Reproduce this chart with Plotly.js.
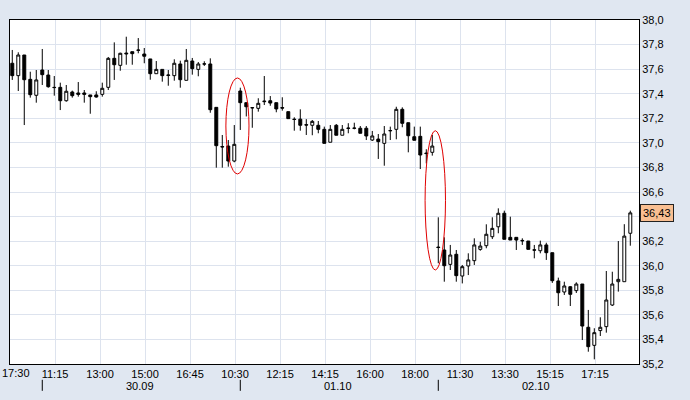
<!DOCTYPE html>
<html>
<head>
<meta charset="utf-8">
<script src="https://cdn.plot.ly/plotly-3.0.1.min.js"></script>
<style>
html, body { margin: 0; padding: 0; background: #e0e7f1; }
#chart { width: 690px; height: 400px; }
</style>
</head>
<body>
<div id="chart"></div>
<script>
// 15 minute candles
var openPx = [37.648, 37.547, 37.715, 37.517, 37.387, 37.593, 37.552, 37.452, 37.452, 37.343,
    37.414, 37.406, 37.406, 37.390, 37.390, 37.395, 37.452, 37.688, 37.631, 37.731,
    37.742, 37.753, 37.723, 37.683, 37.563, 37.598, 37.548, 37.547, 37.642, 37.509,
    37.666, 37.598, 37.641, 37.642, 37.289, 36.970, 36.974, 36.852, 37.422, 37.327,
    37.287, 37.281, 37.335, 37.343, 37.327, 37.287, 37.254, 37.193, 37.193, 37.148,
    37.143, 37.143, 37.110, 37.005, 37.143, 37.062, 37.117, 37.118, 37.119, 37.119,
    37.023, 37.031, 36.996, 37.098, 37.110, 37.273, 37.164, 37.050, 37.053, 36.917,
    36.923, 36.152, 36.128, 36.011, 36.093, 35.916, 35.998, 36.041, 36.133, 36.163,
    36.236, 36.317, 36.427, 36.231, 36.231, 36.206, 36.201, 36.129, 36.122, 36.169,
    36.106, 35.876, 35.786, 35.829, 35.797, 35.851, 35.499, 35.352, 35.472, 35.504,
    35.680, 35.870, 35.870, 36.264];
var highPx = [37.756, 37.737, 37.715, 37.579, 37.593, 37.764, 37.593, 37.544, 37.490, 37.471,
    37.425, 37.495, 37.430, 37.390, 37.420, 37.490, 37.699, 37.818, 37.734, 37.864,
    37.742, 37.853, 37.772, 37.683, 37.666, 37.598, 37.593, 37.680, 37.669, 37.764,
    37.691, 37.658, 37.664, 37.688, 37.289, 37.064, 37.023, 37.145, 37.449, 37.327,
    37.287, 37.363, 37.544, 37.381, 37.327, 37.371, 37.254, 37.208, 37.273, 37.193,
    37.186, 37.178, 37.132, 37.145, 37.153, 37.145, 37.160, 37.164, 37.137, 37.137,
    37.097, 37.072, 37.137, 37.132, 37.294, 37.289, 37.164, 37.132, 37.132, 36.948,
    37.064, 36.394, 36.231, 36.169, 36.128, 36.006, 36.101, 36.223, 36.195, 36.337,
    36.394, 36.467, 36.448, 36.399, 36.231, 36.223, 36.201, 36.169, 36.204, 36.187,
    36.106, 35.903, 35.870, 35.835, 35.865, 35.851, 35.640, 35.491, 35.580, 35.957,
    35.951, 36.201, 36.338, 36.448];
var lowPx = [37.512, 37.422, 37.145, 37.368, 37.327, 37.471, 37.449, 37.384, 37.267, 37.335,
    37.368, 37.376, 37.327, 37.237, 37.368, 37.376, 37.430, 37.512, 37.587, 37.636,
    37.636, 37.729, 37.648, 37.514, 37.563, 37.498, 37.465, 37.506, 37.449, 37.509,
    37.555, 37.542, 37.626, 37.245, 36.798, 36.798, 36.806, 36.842, 37.105, 37.215,
    37.123, 37.254, 37.308, 37.302, 37.249, 37.262, 37.197, 37.099, 37.099, 37.064,
    37.062, 37.078, 36.996, 37.005, 37.062, 37.062, 37.078, 37.110, 37.078, 37.023,
    37.015, 36.869, 36.814, 37.023, 37.029, 37.127, 36.923, 37.021, 36.787, 36.833,
    36.896, 36.020, 35.870, 35.965, 35.870, 35.856, 35.924, 36.006, 36.122, 36.142,
    36.217, 36.264, 36.215, 36.209, 36.128, 36.169, 36.133, 36.060, 36.101, 36.047,
    35.860, 35.672, 35.762, 35.672, 35.778, 35.395, 35.300, 35.238, 35.428, 35.455,
    35.672, 35.789, 35.870, 36.163];
var closePx = [37.547, 37.715, 37.514, 37.392, 37.512, 37.555, 37.457, 37.450, 37.343, 37.420,
    37.384, 37.395, 37.395, 37.376, 37.373, 37.444, 37.688, 37.636, 37.729, 37.725,
    37.726, 37.755, 37.705, 37.563, 37.598, 37.547, 37.552, 37.648, 37.514, 37.672,
    37.604, 37.642, 37.643, 37.270, 36.977, 36.967, 36.852, 36.988, 37.327, 37.294,
    37.285, 37.322, 37.339, 37.324, 37.276, 37.283, 37.197, 37.190, 37.143, 37.145,
    37.175, 37.110, 36.996, 37.110, 37.062, 37.110, 37.120, 37.120, 37.078, 37.056,
    37.056, 37.010, 37.072, 37.100, 37.273, 37.159, 37.058, 37.021, 36.901, 36.913,
    36.974, 36.148, 36.000, 36.087, 35.919, 35.992, 36.047, 36.169, 36.160, 36.256,
    36.304, 36.427, 36.215, 36.209, 36.209, 36.203, 36.133, 36.127, 36.169, 36.106,
    35.878, 35.780, 35.835, 35.767, 35.851, 35.509, 35.341, 35.455, 35.499, 35.721,
    35.851, 35.889, 36.241, 36.430];

var timeLabels = ['17:30', '11:15', '13:00', '15:00', '16:45', '10:30', '12:15',
    '14:15', '16:00', '18:00', '11:30', '13:30', '15:15', '17:15'];
var priceTicks = [35.2, 35.4, 35.6, 35.8, 36.0, 36.2, 36.4, 36.6, 36.8, 37.0, 37.2, 37.4, 37.6, 37.8, 38.0];
var dayLabels = ['30.09', '01.10', '02.10'];
var dayStarts = [5, 38, 71];
var lastPrice = 36.43;

var fontName = 'Liberation Sans, Arial, sans-serif';
var xIdx = openPx.map(function(v, i) { return i; });

// time ticks sit every 7.5 candles; the first one is pushed in from the edge as text
var tickVals = [];
var tickText = [];
for (var iii = 0; iii < timeLabels.length; iii++)
{
    tickVals.push(-0.37 + 7.5 * iii);
    tickText.push(iii == 0 ? '' : timeLabels[iii]);
}

// the 36,4 label sits under the last price box
var priceText = priceTicks.map(function(p) {
    return Math.abs(p - lastPrice) < 0.1 ? '' : p.toFixed(1).replace('.', ',');
});

var trace1 =
{
    type: 'candlestick',
    x: xIdx,
    open: openPx,
    high: highPx,
    low: lowPx,
    close: closePx,
    increasing: {line: {color: '#000', width: 1}, fillcolor: '#fff'},
    decreasing: {line: {color: '#000', width: 1}, fillcolor: '#000'},
    whiskerwidth: 0,
    hoverinfo: 'skip'
};

var shapes = [];
var annotations = [];
for (iii = 0; iii < dayStarts.length; iii++)
{
    var endIdx = (iii + 1 < dayStarts.length) ? dayStarts[iii + 1] - 1 : xIdx.length - 1;
    shapes.push({type: 'line', xref: 'x', yref: 'paper', x0: dayStarts[iii], x1: dayStarts[iii],
        y0: -0.046, y1: -0.078, line: {color: '#000', width: 1}});
    annotations.push({xref: 'x', yref: 'paper', x: (dayStarts[iii] + endIdx) / 2 + 0.3, y: -0.064,
        text: dayLabels[iii], showarrow: false, xanchor: 'center', yanchor: 'middle',
        font: {family: fontName, size: 11, color: '#000'}});
}

annotations.push({xref: 'paper', yref: 'paper', x: 0, y: -0.027, xshift: -10,
    text: timeLabels[0], showarrow: false, xanchor: 'left', yanchor: 'middle',
    font: {family: fontName, size: 11, color: '#000'}});

// red ellipses round the two gaps
shapes.push({type: 'circle', xref: 'x', yref: 'y', x0: 35.6, x1: 39.45, y0: 36.747, y1: 37.528,
    line: {color: '#e00000', width: 1}});
shapes.push({type: 'circle', xref: 'x', yref: 'y', x0: 68.8, x1: 72.2, y0: 35.965, y1: 37.099,
    line: {color: '#e00000', width: 1}});

// last price box
annotations.push({xref: 'paper', yref: 'y', x: 1, y: lastPrice, xanchor: 'left', yanchor: 'middle',
    xshift: 1, text: lastPrice.toFixed(2).replace('.', ','), showarrow: false,
    bgcolor: '#f9bf92', bordercolor: '#222', borderwidth: 1, borderpad: 2,
    font: {family: fontName, size: 11, color: '#000'}});

var layout =
{
    width: 690,
    height: 400,
    margin: {l: 10, r: 51, t: 20, b: 36, pad: 0},
    paper_bgcolor: '#e0e7f1',
    plot_bgcolor: '#ffffff',
    showlegend: false,
    font: {family: fontName, size: 11, color: '#000'},
    xaxis:
    {
        range: [-0.38, 104.45],
        tickmode: 'array',
        tickvals: tickVals,
        ticktext: tickText,
        ticks: '',
        showgrid: true,
        gridcolor: '#dde3ee',
        gridwidth: 1,
        showline: true,
        linecolor: '#000',
        linewidth: 1,
        mirror: true,
        zeroline: false,
        fixedrange: true,
        rangeslider: {visible: false},
        tickfont: {size: 11, color: '#000'}
    },
    yaxis:
    {
        side: 'right',
        range: [35.2, 38.0],
        tickmode: 'array',
        tickvals: priceTicks,
        ticktext: priceText,
        ticks: '',
        showgrid: true,
        gridcolor: '#dde3ee',
        gridwidth: 1,
        showline: true,
        linecolor: '#000',
        linewidth: 1,
        mirror: true,
        zeroline: false,
        fixedrange: true,
        tickfont: {size: 11, color: '#000'}
    },
    shapes: shapes,
    annotations: annotations
};

Plotly.newPlot('chart', [trace1], layout, {displayModeBar: false, staticPlot: true});
</script>
</body>
</html>
